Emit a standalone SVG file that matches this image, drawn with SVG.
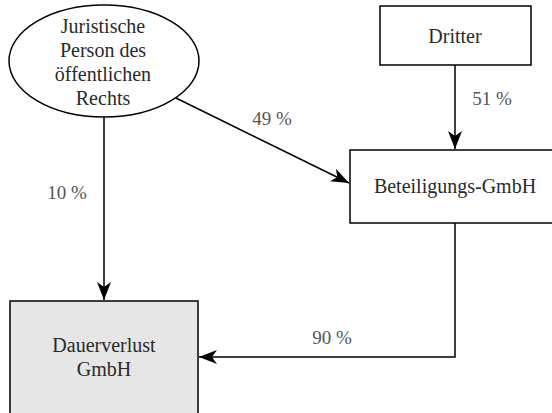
<svg xmlns="http://www.w3.org/2000/svg" width="552" height="413" viewBox="0 0 552 413">
<style>
.node{stroke:#000;stroke-width:1.5;fill:#fff}
.grey{fill:#e6e6e6}
.t{font-family:'Liberation Serif','Times New Roman','DejaVu Serif',serif;font-size:20px;fill:#2a2a2a;text-anchor:middle}
.l{font-family:'Liberation Serif','Times New Roman','DejaVu Serif',serif;font-size:19px;fill:#555;text-anchor:middle}
.c{stroke:#000;stroke-width:1.5;fill:none;marker-end:url(#ah)}
</style>
<defs>
<marker id="ah" markerUnits="userSpaceOnUse" markerWidth="20" markerHeight="14" viewBox="0 0 20 14" refX="18" refY="7" orient="auto">
<path d="M0,0 L18,7 L0,14 L5,7 z" fill="#000"/>
</marker>
</defs>
<g id="connectors">
<path class="c" d="M104,117 L104,300"/>
<path class="c" d="M176,98 L349,183"/>
<path class="c" d="M455,65 L455,149"/>
<path class="c" d="M455,223 L455,357 L199,357"/>
<text class="l" x="67" y="199">10 %</text>
<text class="l" x="272" y="125">49 %</text>
<text class="l" x="492" y="105">51 %</text>
<text class="l" x="332" y="344">90 %</text>
</g>
<g id="juristische">
<ellipse class="node" cx="104" cy="61" rx="95" ry="56"/>
<text class="t" x="103" y="33">Juristische</text>
<text class="t" x="103" y="57">Person des</text>
<text class="t" x="103" y="81">öffentlichen</text>
<text class="t" x="103" y="105">Rechts</text>
</g>
<g id="dritter">
<rect class="node" x="380" y="6" width="151" height="59"/>
<text class="t" x="455" y="43">Dritter</text>
</g>
<g id="beteiligungs">
<rect class="node" x="350" y="150" width="210" height="73"/>
<text class="t" x="455" y="193">Beteiligungs-GmbH</text>
</g>
<g id="dauerverlust">
<rect class="node grey" x="10" y="301" width="188" height="130"/>
<text class="t" x="104" y="352">Dauerverlust</text>
<text class="t" x="104" y="376">GmbH</text>
</g>
</svg>
